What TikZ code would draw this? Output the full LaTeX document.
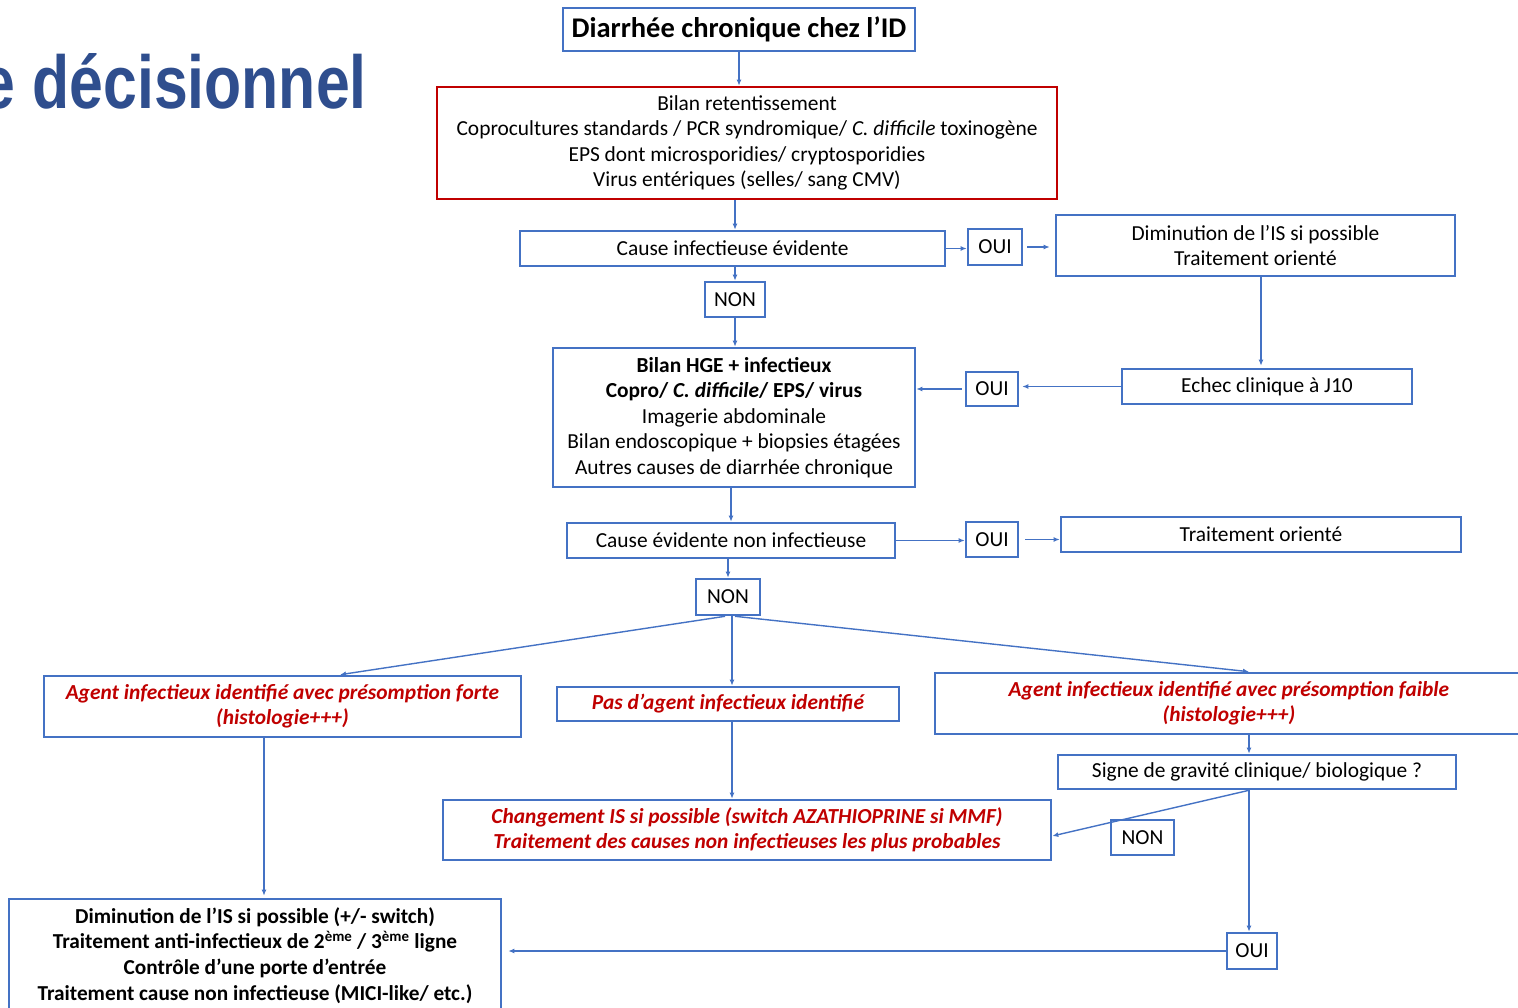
\documentclass[tikz,border=0pt]{standalone}
\usepackage{fontspec}
\setmainfont{Carlito}
\newfontfamily\titlefont{Liberation Sans}
\usetikzlibrary{arrows.meta}
\definecolor{bblue}{HTML}{4472C4}
\definecolor{rred}{HTML}{C00000}
\definecolor{tblue}{HTML}{2F4E8E}
\begin{document}
\begin{tikzpicture}[x=1pt,y=-1pt,
  bx/.style={draw=bblue, line width=2.6pt, fill=white, align=center, inner sep=0pt, font=\fontsize{21.4}{25.6}\selectfont},
  rtext/.style={text=rred, font=\fontsize{21.4}{24.5}\selectfont\bfseries\itshape},
  btext/.style={font=\fontsize{21.3}{25.7}\selectfont\bfseries},
  arr/.style={draw=bblue, line width=1.4pt, -{Latex[length=6pt,width=5pt]}},
  ln/.style={draw=bblue, line width=1.4pt}]
\useasboundingbox (0,0) rectangle (1518,1008);
\clip (0,0) rectangle (1518,1008);
% heading fragment
\node[anchor=base east, inner sep=0pt, text=tblue, font=\titlefont\bfseries\fontsize{75}{75}\selectfont] (hd) at (367,109) {\scalebox{0.81}[1]{e décisionnel}};
% boxes
\node[bx, minimum width=352, minimum height=43, font=\fontsize{28.5}{32}\selectfont\bfseries] (t) at (739,29.5) {Diarrhée chronique chez l’ID};
\node[bx, draw=rred, minimum width=620, minimum height=112] (r) at (747,143) {Bilan retentissement\\Coprocultures standards / PCR syndromique/ \textit{C. difficile} toxinogène\\EPS dont microsporidies/ cryptosporidies\\Virus entériques (selles/ sang CMV)};
\node[bx, minimum width=425, minimum height=35] (ci) at (732.5,248.5) {Cause infectieuse évidente};
\node[bx, minimum width=54, minimum height=36] (oui1) at (995,247) {OUI};
\node[bx, minimum width=399, minimum height=61] (dim) at (1255.5,245.5) {Diminution de l’IS si possible\\Traitement orienté};
\node[bx, minimum width=60, minimum height=35] (non1) at (735,299.5) {NON};
\node[bx, minimum width=362, minimum height=139] (hge) at (734,417.5) {\textbf{Bilan HGE + infectieux}\\\textbf{Copro/ \textit{C. difficile}/ EPS/ virus}\\Imagerie abdominale\\Bilan endoscopique + biopsies étagées\\Autres causes de diarrhée chronique};
\node[bx, minimum width=52, minimum height=34] (oui2) at (992,389) {OUI};
\node[bx, minimum width=290, minimum height=35] (echec) at (1267,386.5) {Echec clinique à J10};
\node[bx, minimum width=328, minimum height=35] (cen) at (731,540.5) {Cause évidente non infectieuse};
\node[bx, minimum width=52, minimum height=35] (oui3) at (992,539.5) {OUI};
\node[bx, minimum width=400, minimum height=35] (to) at (1261,534.5) {Traitement orienté};
\node[bx, minimum width=64, minimum height=36] (non2) at (728,597) {NON};
\node[bx, rtext, minimum width=477, minimum height=61] (af) at (282.5,706.5) {Agent infectieux identifié avec présomption forte\\(histologie+++)};
\node[bx, rtext, minimum width=342, minimum height=34] (pas) at (728,704) {Pas d’agent infectieux identifié};
\node[bx, rtext, minimum width=588, minimum height=61] (afb) at (1229,703.5) {Agent infectieux identifié avec présomption faible\\(histologie+++)};
\node[bx, minimum width=398, minimum height=34] (sg) at (1257,772) {Signe de gravité clinique/ biologique ?};
\node[bx, rtext, minimum width=608, minimum height=60] (chg) at (747,830) {Changement IS si possible (switch AZATHIOPRINE si MMF)\\Traitement des causes non infectieuses les plus probables};
\node[bx, minimum width=492, minimum height=113, btext] (bot) at (255,955.5) {Diminution de l’IS si possible (+/- switch)\\Traitement anti-infectieux de 2\textsuperscript{ème} / 3\textsuperscript{ème} ligne\\Contrôle d’une porte d’entrée\\Traitement cause non infectieuse (MICI-like/ etc.)};
\node[bx, minimum width=63, minimum height=35] (non3) at (1142.5,837.5) {NON};
\node[bx, minimum width=50, minimum height=36] (oui4) at (1252,951) {OUI};
% connectors
\draw[arr] (t.south) -- (t.south |- r.north);
\draw[arr] (non1.north |- r.south) -- (non1.north |- ci.north);
\draw[arr] (non1.north |- ci.south) -- (non1.north);
\draw[arr] (non1.south) -- (non1.south |- hge.north);
\draw[arr] (ci.east) -- (ci.east -| oui1.west);
\draw[arr, shorten <=4pt, shorten >=5pt] (oui1.east) -- (oui1.east -| dim.west);
\coordinate (d5) at (1261,0);
\draw[arr, shorten >=2pt] (d5 |- dim.south) -- (d5 |- echec.north);
\draw[arr, shorten >=3pt] (echec.west) -- (echec.west -| oui2.east);
\draw[arr, shorten <=3pt] (oui2.west) -- (oui2.west -| hge.east);
\draw[arr] (hge.south -| cen.north) -- (cen.north);
\draw[arr] (cen.east) -- (cen.east -| oui3.west);
\draw[arr, shorten <=6pt] (oui3.east) -- (oui3.east -| to.west);
\draw[arr] (cen.south -| non2.north) -- (non2.north);
\draw[arr] ([xshift=-3pt]non2.south) -- ([xshift=57.5pt]af.north);
\coordinate (m) at ([xshift=4pt]non2.south);
\draw[arr] (m) -- (m |- pas.north);
\draw[arr] ([xshift=7pt]non2.south) -- ([xshift=20pt]afb.north);
\coordinate (l) at ([xshift=-18.5pt]af.south);
\draw[arr, shorten >=2pt] (l) -- (l |- bot.north);
\draw[arr] (m |- pas.south) -- (m |- chg.north);
\coordinate (g) at ([xshift=20pt]afb.south);
\draw[arr] (g) -- (g |- sg.north);
\draw[arr] (g |- sg.south) -- ([yshift=-6pt]chg.east);
\draw[arr] (g |- sg.south) -- (g |- oui4.north);
\draw[arr, shorten >=6pt] (oui4.west) -- (oui4.west -| bot.east);
\end{tikzpicture}
\end{document}
